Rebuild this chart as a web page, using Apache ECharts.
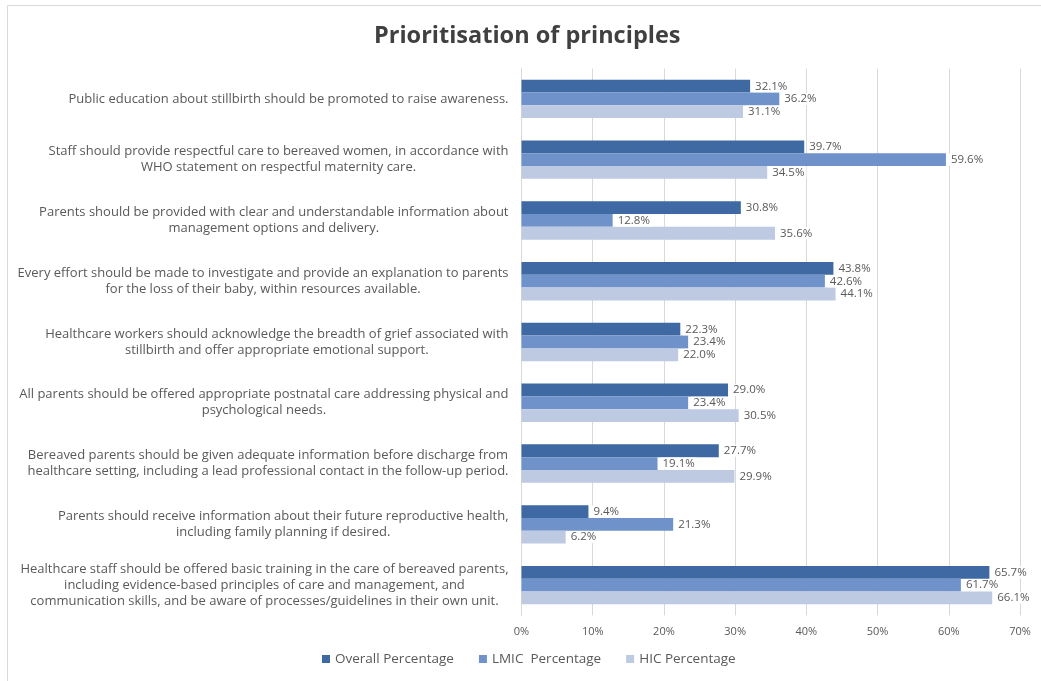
<!DOCTYPE html>
<html><head><meta charset="utf-8">
<script src="https://cdn.jsdelivr.net/npm/echarts@6/dist/echarts.min.js"></script>
<style>html,body{margin:0;padding:0;background:#fff}#c{width:1041px;height:681px}</style>
</head><body><div id="c"></div>
<script>
const categories = [
  "Public education about stillbirth should be promoted to raise awareness.",
  "Staff should provide respectful care to bereaved women, in accordance with\nWHO statement on respectful maternity care.",
  "Parents should be provided with clear and understandable information about\nmanagement options and delivery.",
  "Every effort should be made to investigate and provide an explanation to parents\nfor the loss of their baby, within resources available.",
  "Healthcare workers should acknowledge the breadth of grief associated with\nstillbirth and offer appropriate emotional support.",
  "All parents should be offered appropriate postnatal care addressing physical and\npsychological needs.",
  "Bereaved parents should be given adequate information before discharge from\nhealthcare setting, including a lead professional contact in the follow-up period.",
  "Parents should receive information about their future reproductive health,\nincluding family planning if desired.",
  "Healthcare staff should be offered basic training in the care of bereaved parents,\nincluding evidence-based principles of care and management, and\ncommunication skills, and be aware of processes/guidelines in their own unit."
];
const seriesNames = ["Overall Percentage", "LMIC  Percentage", "HIC Percentage"];
const overall = [32.1, 39.7, 30.8, 43.8, 22.3, 29.0, 27.7, 9.4, 65.7];
const lmic = [36.2, 59.6, 12.8, 42.6, 23.4, 23.4, 19.1, 21.3, 61.7];
const hic = [31.1, 34.5, 35.6, 44.1, 22.0, 30.5, 29.9, 6.2, 66.1];
const xTicks = [0, 10, 20, 30, 40, 50, 60, 70];

const colors = ["#3e69a3", "#6f92ca", "#bdcae2"];
const FONT = "Open Sans";
const chart = echarts.init(document.getElementById('c'), null, {renderer: 'canvas'});
function mkSeries(name, data, color) {
  return {
    name: name, type: 'bar', data: data, barGap: '0%', barCategoryGap: '37%',
    itemStyle: {color: color},
    label: {
      show: true, position: 'right', distance: 3,
      formatter: p => p.value.toFixed(1) + '%',
      color: '#595959', fontSize: 11.5, fontFamily: FONT,
      backgroundColor: '#fff', padding: [0, 2, 0, 2]
    },
    z: 2
  };
}
chart.setOption({
  animation: false,
  backgroundColor: '#fff',
  title: {
    text: 'Prioritisation of principles', left: 369, top: 19,
    textStyle: {fontFamily: FONT, fontSize: 23.5, fontWeight: 'bold', color: '#404040'}
  },
  graphic: [{
    type: 'rect', shape: {x: 7.5, y: 5.5, width: 1060, height: 700},
    style: {fill: 'none', stroke: '#d9d9d9', lineWidth: 1}, silent: true
  }],
  legend: {
    bottom: 15, left: 322, padding: 0, itemWidth: 8, itemHeight: 8, itemGap: 25,
    icon: 'rect',
    textStyle: {fontFamily: FONT, fontSize: 13.5, color: '#595959'},
    data: seriesNames
  },
  grid: {left: 521.5, right: 21, top: 68.6, bottom: 65.6, containLabel: false},
  xAxis: {
    type: 'value', min: xTicks[0], max: xTicks[xTicks.length - 1], interval: 10,
    axisLine: {show: false}, axisTick: {show: false},
    splitLine: {show: true, lineStyle: {color: '#d9d9d9', width: 1}},
    axisLabel: {formatter: v => v + '%', color: '#595959', fontSize: 11, fontFamily: FONT, margin: 11}
  },
  yAxis: {
    type: 'category', data: categories, inverse: true,
    axisLine: {show: true, lineStyle: {color: '#d9d9d9'}}, axisTick: {show: false},
    axisLabel: {
      margin: 13, align: 'right', fontSize: 13, fontFamily: FONT, color: '#595959',
      lineHeight: 16,
      formatter: v => v.split('\n').map(s => '{c|' + s + '}').join('\n'),
      rich: {c: {align: 'center', fontSize: 13, fontFamily: FONT, color: '#595959', lineHeight: 16}}
    }
  },
  series: [mkSeries(seriesNames[0], overall, colors[0]), mkSeries(seriesNames[1], lmic, colors[1]), mkSeries(seriesNames[2], hic, colors[2])]
});
</script></body></html>
